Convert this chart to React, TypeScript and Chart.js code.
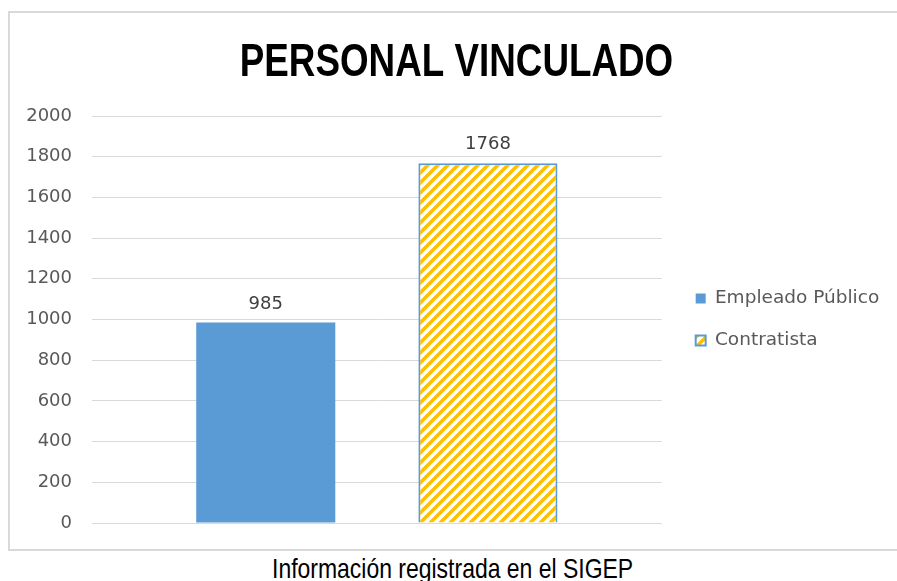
import React, { useEffect, useRef } from "react";
import { Chart, registerables } from "chart.js";

Chart.register(...registerables);

const categories = ["Personal"];
const seriesNames = ["Empleado Público", "Contratista"];
const empleadoValues = [985];
const contratistaValues = [1768];
const yTicks = { min: 0, max: 2000, step: 200 };
const titleText = "PERSONAL VINCULADO";
const captionText = "Información registrada en el SIGEP";

const BLUE = "#5B9BD5";
const GOLD = "#FFC000";

function makePattern(): CanvasPattern | string {
  const c = document.createElement("canvas");
  c.width = 10;
  c.height = 10;
  const ctx = c.getContext("2d");
  if (!ctx) return GOLD;
  ctx.fillStyle = "#ffffff";
  ctx.fillRect(0, 0, 10, 10);
  ctx.strokeStyle = GOLD;
  ctx.lineWidth = 3.6;
  ctx.lineCap = "square";
  ctx.beginPath();
  ctx.moveTo(-2, 12);
  ctx.lineTo(12, -2);
  ctx.moveTo(-2, 2);
  ctx.lineTo(2, -2);
  ctx.moveTo(8, 12);
  ctx.lineTo(12, 8);
  ctx.stroke();
  return ctx.createPattern(c, "repeat") || GOLD;
}

const valueLabels = {
  id: "valueLabels",
  afterDatasetsDraw(chart: any) {
    const ctx = chart.ctx;
    ctx.save();
    ctx.font = "18px 'DejaVu Sans'";
    ctx.fillStyle = "#404040";
    ctx.textAlign = "center";
    ctx.textBaseline = "alphabetic";
    chart.data.datasets.forEach((ds: any, i: number) => {
      const meta = chart.getDatasetMeta(i);
      meta.data.forEach((el: any, j: number) => {
        ctx.fillText(String(ds.data[j]), el.x, el.y - 14);
      });
    });
    ctx.restore();
  },
};

const narrowTitle = {
  id: "narrowTitle",
  afterDraw(chart: any) {
    const ctx = chart.ctx;
    ctx.save();
    ctx.font = "bold 46px 'Liberation Sans'";
    ctx.fillStyle = "#000000";
    ctx.textAlign = "center";
    ctx.textBaseline = "middle";
    ctx.translate(446.5, 50);
    ctx.scale(0.8, 1);
    ctx.fillText(titleText, 0, 0);
    ctx.restore();
  },
};

export default function App() {
  const ref = useRef<HTMLCanvasElement>(null);
  useEffect(() => {
    if (!ref.current) return;
    const pattern = makePattern();
    const chart = new Chart(ref.current, {
      type: "bar",
      data: {
        labels: categories,
        datasets: [
          {
            label: seriesNames[0],
            data: empleadoValues,
            backgroundColor: BLUE,
            borderColor: BLUE,
            borderWidth: 0,
            categoryPercentage: 0.78,
            barPercentage: 0.626,
          },
          {
            label: seriesNames[1],
            data: contratistaValues,
            backgroundColor: pattern as any,
            borderColor: BLUE,
            borderWidth: 2,
            categoryPercentage: 0.78,
            barPercentage: 0.626,
          },
        ],
      },
      options: {
        responsive: false,
        animation: false,
        devicePixelRatio: 1,
        layout: { padding: { left: 0, right: 7.75, top: 103, bottom: 26 } },
        plugins: {
          title: { display: false },
          legend: {
            display: true,
            position: "right",
            fullSize: false,
            maxWidth: 320,
            labels: {
              boxWidth: 10,
              boxHeight: 10,
              padding: 23.5,
              color: "#595959",
              font: { family: "'DejaVu Sans'", size: 18.5 },
            },
          },
          tooltip: { enabled: false },
        },
        scales: {
          x: { display: false },
          y: {
            min: yTicks.min,
            max: yTicks.max,
            ticks: {
              stepSize: yTicks.step,
              color: "#595959",
              padding: 20,
              font: { family: "'DejaVu Sans'", size: 18 },
              callback: (v: any) => String(v),
            },
            grid: { color: "#D9D9D9", lineWidth: 1, drawTicks: false },
            border: { display: false },
            afterFit: (s: any) => {
              s.width = 82;
              s.paddingTop = 0;
              s.paddingBottom = 0;
            },
          },
          gap: {
            type: "linear",
            position: "right",
            display: true,
            ticks: { display: false },
            grid: { display: false, drawTicks: false },
            border: { display: false },
            afterFit: (s: any) => {
              s.width = 10.5;
              s.paddingTop = 0;
              s.paddingBottom = 0;
            },
          },
        },
      },
      plugins: [valueLabels, narrowTitle],
    });
    return () => chart.destroy();
  }, []);

  return (
    <div style={{ position: "fixed", left: 0, top: 0, width: 897, height: 581, overflow: "hidden", background: "#ffffff" }}>
      <div
        style={{
          position: "absolute",
          left: 8,
          top: 11,
          width: 900,
          height: 540,
          boxSizing: "border-box",
          borderTop: "2px solid #D9D9D9",
          borderLeft: "2px solid #D9D9D9",
          borderBottom: "2px solid #D9D9D9",
          background: "#ffffff",
        }}
      >
        <canvas ref={ref} width={887} height={536} style={{ display: "block" }} />
      </div>
      <div
        style={{
          position: "absolute",
          left: 272,
          top: 554.5,
          whiteSpace: "nowrap",
          fontFamily: "'Liberation Sans'",
          fontSize: 28,
          lineHeight: "28px",
          color: "#000000",
          transform: "scaleX(0.82)",
          transformOrigin: "left top",
        }}
      >
        {captionText}
      </div>
    </div>
  );
}
